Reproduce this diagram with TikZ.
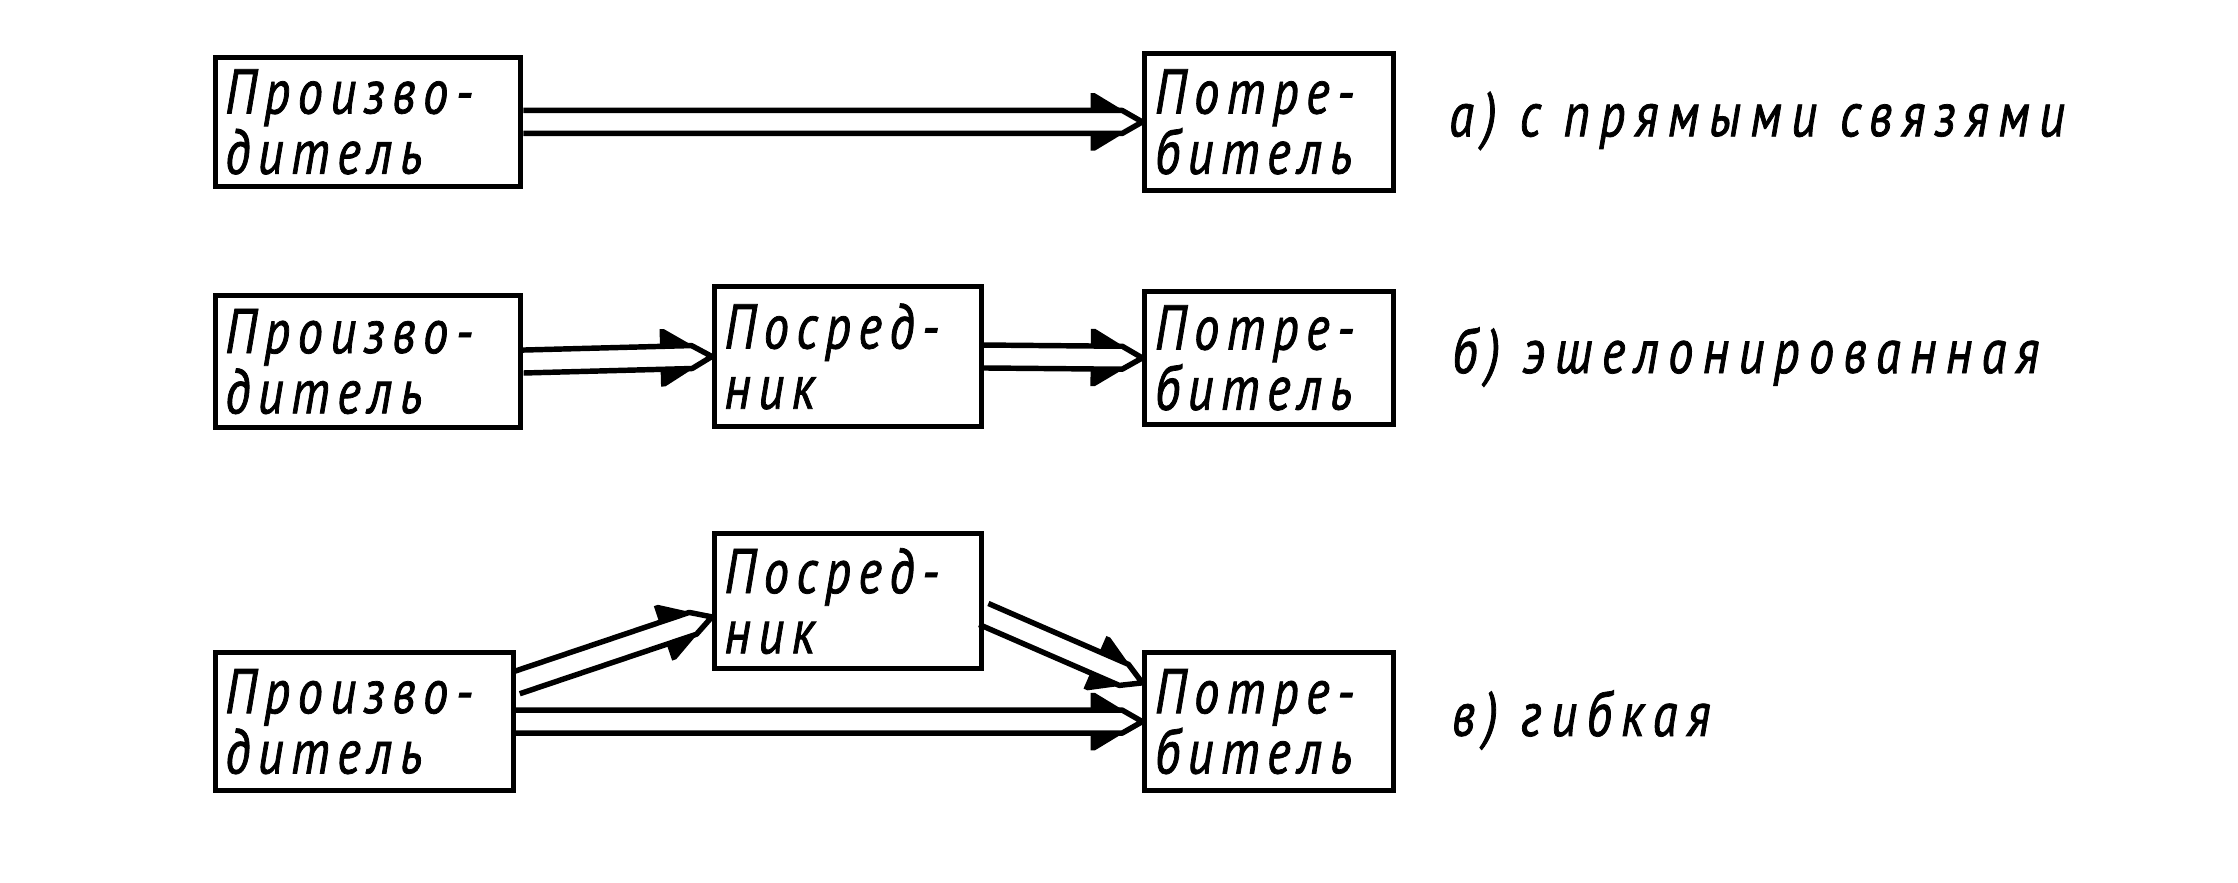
\documentclass[tikz,border=0pt]{standalone}
\usepackage{fontspec}
\setmainfont{PT Sans}
\newfontfamily\boxfont[FakeStretch=0.8,LetterSpace=12,FakeBold=1.2]{PT Sans}
\newfontfamily\lblfont[FakeStretch=0.8,LetterSpace=15,FakeBold=1.2]{PT Sans}
\usetikzlibrary{decorations.markings}
\newcommand\dblhead{%
  \draw[line width=3.8pt,line join=round]
    (-\pgfdecoratedpathlength,8pt) -- (-14pt,8pt) -- (0pt,0pt)
    -- (-14pt,-8pt) -- (-\pgfdecoratedpathlength,-8pt);
  \fill (-36pt,20pt) -- (-33pt,20pt) -- (0pt,0pt) -- (-14pt,8pt) -- (-36pt,8pt) -- cycle;
  \fill (-36pt,-20pt) -- (-33pt,-20pt) -- (0pt,0pt) -- (-14pt,-8pt) -- (-36pt,-8pt) -- cycle;
}
\begin{document}
\begin{tikzpicture}[x=1pt,y=-1pt,
  box/.style={draw,line width=3.5pt,inner xsep=7pt,inner ysep=0pt,align=left,
    font=\boxfont\itshape\fontsize{44}{42}\selectfont},
  lbl/.style={anchor=base west,inner sep=0pt,
    font=\lblfont\itshape\fontsize{44}{44}\selectfont},
  dbl/.style={postaction={decorate,decoration={markings,
    mark=at position 1 with {\dblhead}}}}]
\useasboundingbox (0,0) rectangle (1560,615);
% row a
\node[box,minimum height=90pt,text width=199pt] (pa) at (256.5,85) {Произво-\\дитель};
\node[box,minimum height=96pt,text width=159pt] (ca) at (884.5,85) {Потре-\\битель};
\path[dbl] (pa.east) -- (ca.west);
\node[lbl] (la) at (1010,95) {а) с прямыми связями};
% row b
\node[box,minimum height=92pt,text width=199pt] (pb) at (256.5,252) {Произво-\\дитель};
\node[box,minimum height=97pt,text width=172pt] (ib) at (591,248.5) {Посред-\\ник};
\node[box,minimum height=93pt,text width=159pt] (cb) at (884.5,249.5) {Потре-\\битель};
\path[dbl] (pb.east) -- (ib.west);
\path[dbl] (ib.east) -- (cb.west);
\node[lbl] (lb) at (1012,260) {б) эшелонированная};
% row c
\node[box,minimum height=94pt,text width=172pt] (ic) at (591,419) {Посред-\\ник};
\node[box,minimum height=96pt,text width=194pt] (pc) at (254,503) {Произво-\\дитель};
\node[box,minimum height=96pt,text width=159pt] (cc) at (884.5,503) {Потре-\\битель};
\path[dbl] ([yshift=27pt]pc.east) -- ([yshift=-11pt]ic.west);
\path[dbl] ([yshift=-9pt]ic.east) -- ([yshift=27pt]cc.west);
\path[dbl] (pc.east) -- (cc.west);
\node[lbl] (lc) at (1012,513) {в) гибкая};
\end{tikzpicture}
\end{document}
